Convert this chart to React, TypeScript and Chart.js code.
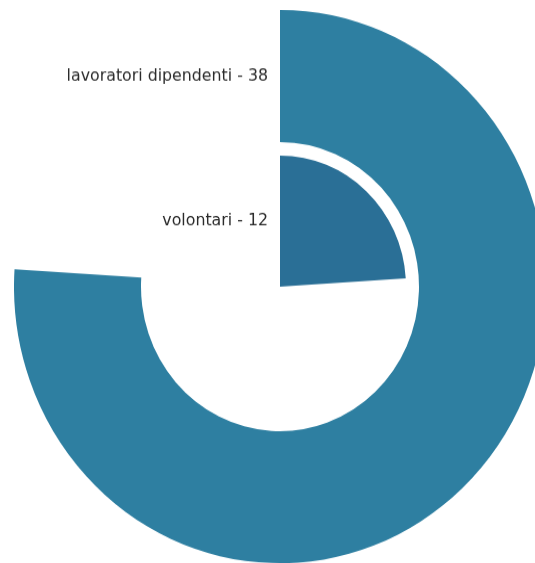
import React, { useEffect, useRef } from "react";
import { Chart, registerables } from "chart.js";

Chart.register(...registerables);

const categories = ["lavoratori dipendenti", "volontari"];
const values = [38, 12];
const angleMax = 50;
const colors = ["#2e7fa1", "#2a6f96"];

const labelPlugin = {
  id: "ringLabels",
  afterDraw(chart: any) {
    const ctx = chart.ctx;
    ctx.save();
    ctx.font = '15.8px "DejaVu Sans", sans-serif';
    ctx.fillStyle = "#2b2b2b";
    ctx.textAlign = "right";
    ctx.textBaseline = "middle";
    chart.data.datasets.forEach((ds: any, i: number) => {
      if (!ds.label) return;
      const meta = chart.getDatasetMeta(i);
      const arc: any = meta.data[0];
      if (!arc) return;
      const { x, y, innerRadius, outerRadius } = arc.getProps(
        ["x", "y", "innerRadius", "outerRadius"],
        true
      );
      const r = (innerRadius + outerRadius) / 2;
      ctx.fillText(ds.label, x - 12, y - r);
    });
    ctx.restore();
  },
};

export default function App() {
  const ref = useRef<HTMLCanvasElement | null>(null);
  useEffect(() => {
    if (!ref.current) return;
    const ring = (idx: number, weight: number) => ({
      label: `${categories[idx]} - ${values[idx]}`,
      data: [values[idx], angleMax - values[idx]],
      backgroundColor: [colors[idx], "rgba(0,0,0,0)"],
      borderWidth: 0,
      weight,
    });
    const chart = new Chart(ref.current, {
      type: "doughnut",
      data: {
        labels: ["value", "rest"],
        datasets: [
          ring(0, 127),
          {
            label: "",
            data: [1],
            backgroundColor: ["rgba(0,0,0,0)"],
            borderWidth: 0,
            weight: 13,
          } as any,
          ring(1, 126),
        ],
      },
      options: {
        animation: false,
        responsive: true,
        maintainAspectRatio: false,
        cutout: 0,
        layout: { padding: 0 },
        plugins: {
          legend: { display: false },
          tooltip: { enabled: false },
        },
      } as any,
      plugins: [labelPlugin],
    });
    return () => chart.destroy();
  }, []);
  return (
    <div
      style={{
        position: "fixed",
        left: 0,
        top: 0,
        width: 535,
        height: 563,
        overflow: "hidden",
        background: "#ffffff",
      }}
    >
      <div
        style={{
          position: "absolute",
          left: 14,
          top: 10,
          width: 532,
          height: 532,
          transform: "scale(1, 1.04)",
          transformOrigin: "0 0",
        }}
      >
        <canvas ref={ref} />
      </div>
    </div>
  );
}
